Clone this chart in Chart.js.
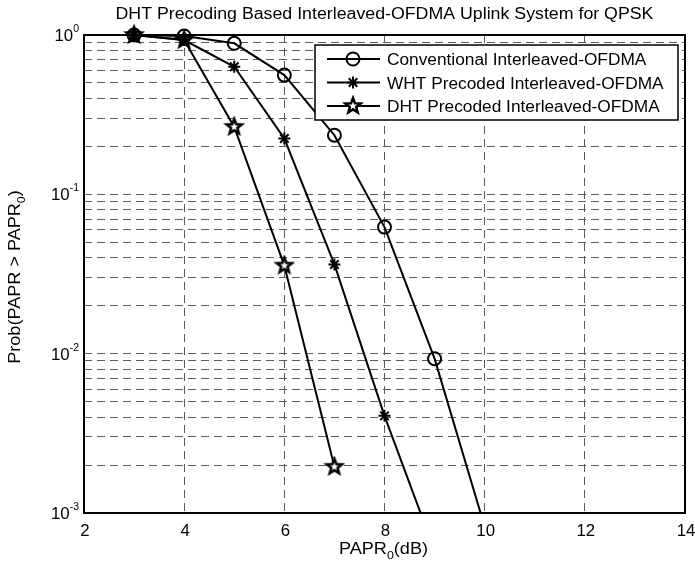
<!DOCTYPE html>
<html>
<head>
<meta charset="utf-8">
<title>DHT Precoding PAPR</title>
<script src="https://cdn.jsdelivr.net/npm/chart.js@4.4.0/dist/chart.umd.min.js"></script>
<style>
  html, body { margin: 0; padding: 0; background: #fff; }
  #paprChart { display: block; }
</style>
</head>
<body>
<canvas id="paprChart" width="695" height="563"></canvas>
<script>
// values
var paprDb = [3, 4, 5, 6, 7, 8, 9, 10];
var conventional = [1.0, 0.985, 0.887, 0.56, 0.235, 0.0623, 0.0093, 0.00082];
var whtPrecoded = [1.0, 0.93, 0.632, 0.224, 0.0363, 0.00407, 0.00058];
var dhtPrecoded = [1.0, 0.93, 0.265, 0.0357, 0.00195];
var seriesNames = ["Conventional Interleaved-OFDMA", "WHT Precoded Interleaved-OFDMA", "DHT Precoded Interleaved-OFDMA"];
var xTicks = [2, 4, 6, 8, 10, 12, 14];
var yExponents = [0, -1, -2, -3];

var FONT = '"Liberation Sans", Arial, Helvetica, sans-serif';

function toPoints(ys) {
  return ys.map(function (y, i) { return { x: paprDb[i], y: y }; });
}

// pentagram marker (matlab 'p')
function makePentagram(r) {
  var size = Math.ceil(r * 2 + 6);
  var c = document.createElement('canvas');
  c.width = size; c.height = size;
  var g = c.getContext('2d');
  g.translate(size / 2, size / 2);
  g.beginPath();
  for (var i = 0; i < 10; i++) {
    var rad = i % 2 === 0 ? r : r * 0.42;
    var a = -Math.PI / 2 + i * Math.PI / 5;
    g.lineTo(rad * Math.cos(a), rad * Math.sin(a));
  }
  g.closePath();
  g.fillStyle = '#fff';
  g.fill();
  g.lineWidth = 2.5;
  g.strokeStyle = '#000';
  g.lineJoin = 'miter';
  g.stroke();
  return c;
}
var starImg = makePentagram(8);

var markerStyles = [
  { pointStyle: 'circle', radius: 6.5 },
  { pointStyle: 'star', radius: 6 },
  { pointStyle: starImg, radius: 8 }
];

// text with a sub/superscript part, optionally stretched sideways
function drawScripted(ctx, parts, x, y, align, sx) {
  sx = sx || 1;
  var total = 0;
  parts.forEach(function (p) { ctx.font = p.size + 'px ' + FONT; total += ctx.measureText(p.t).width; });
  var cx = align === 'center' ? -total / 2 : (align === 'right' ? -total : 0);
  ctx.save();
  ctx.translate(x, y);
  ctx.scale(sx, 1);
  parts.forEach(function (p) {
    ctx.font = p.size + 'px ' + FONT;
    ctx.textAlign = 'left';
    ctx.fillText(p.t, cx, p.dy || 0);
    cx += ctx.measureText(p.t).width;
  });
  ctx.restore();
}

var axesDecor = {
  id: 'axesDecor',
  afterDraw: function (chart) {
    var ctx = chart.ctx;
    var area = chart.chartArea;
    var xs = chart.scales.x, ys = chart.scales.y;
    ctx.save();
    ctx.fillStyle = '#000';
    ctx.textBaseline = 'alphabetic';

    // box
    ctx.lineWidth = 2;
    ctx.strokeStyle = '#000';
    ctx.strokeRect(area.left, area.top, area.right - area.left, area.bottom - area.top);

    // x tick labels
    xTicks.forEach(function (v) {
      drawScripted(ctx, [{ t: String(v), size: 16 }], xs.getPixelForValue(v) + 1, area.bottom + 23, 'center', 1.05);
    });

    // y tick labels 10^n
    yExponents.forEach(function (e) {
      var py = ys.getPixelForValue(Math.pow(10, e));
      drawScripted(ctx, [
        { t: '10', size: 16 },
        { t: String(e), size: 10, dy: -9 }
      ], area.left - 5, py + 6, 'right', 1.05);
    });

    // title
    drawScripted(ctx, [{ t: 'DHT Precoding Based Interleaved-OFDMA Uplink System for QPSK', size: 16 }],
      (area.left + area.right) / 2, 18.5, 'center', 1.11);

    // x axis title
    drawScripted(ctx, [
      { t: 'PAPR', size: 16 },
      { t: '0', size: 11, dy: 5 },
      { t: '(dB)', size: 16 }
    ], (area.left + area.right) / 2 - 1, area.bottom + 41, 'center', 1.13);

    // y axis title
    ctx.save();
    ctx.translate(20, (area.top + area.bottom) / 2 + 3);
    ctx.rotate(-Math.PI / 2);
    drawScripted(ctx, [
      { t: 'Prob(PAPR > PAPR', size: 16 },
      { t: '0', size: 11, dy: 5 },
      { t: ')', size: 16 }
    ], 0, 0, 'center', 1.13);
    ctx.restore();

    // legend box
    var bw = 363, bh = 75;
    var bx = area.right - 7 - bw, by = area.top + 10;
    ctx.fillStyle = '#fff';
    ctx.fillRect(bx, by, bw, bh);
    ctx.lineWidth = 1.5;
    ctx.strokeStyle = '#000';
    ctx.strokeRect(bx, by, bw, bh);
    seriesNames.forEach(function (name, i) {
      var ly = by + 14 + i * 23.5;
      ctx.lineWidth = 2;
      ctx.strokeStyle = '#000';
      ctx.beginPath();
      ctx.moveTo(bx + 12, ly);
      ctx.lineTo(bx + 65, ly);
      ctx.stroke();
      var m = markerStyles[i];
      ctx.fillStyle = 'rgba(0,0,0,0)';
      Chart.helpers.drawPoint(ctx, { pointStyle: m.pointStyle, radius: m.radius, borderWidth: 2, rotation: 0 }, bx + 38, ly);
      ctx.fillStyle = '#000';
      drawScripted(ctx, [{ t: name, size: 16 }], bx + 72, ly + 6, 'left', 1.08);
    });
    ctx.restore();
  }
};

function makeDataset(label, ys, idx) {
  var m = markerStyles[idx];
  return {
    label: label,
    data: toPoints(ys),
    borderColor: '#000',
    backgroundColor: 'rgba(0,0,0,0)',
    borderWidth: 2,
    pointStyle: m.pointStyle,
    pointRadius: ys.map(function (v) { return v < 0.001 ? 0 : m.radius; }),
    pointBorderColor: '#000',
    pointBorderWidth: 2,
    pointBackgroundColor: 'rgba(0,0,0,0)',
    tension: 0,
    clip: { left: false, right: false, top: false, bottom: 1 }
  };
}

var ctxP = document.getElementById('paprChart').getContext('2d');
var paprChart = new Chart(ctxP, {
  type: 'line',
  data: {
    datasets: [
      makeDataset(seriesNames[0], conventional, 0),
      makeDataset(seriesNames[1], whtPrecoded, 1),
      makeDataset(seriesNames[2], dhtPrecoded, 2)
    ]
  },
  plugins: [axesDecor],
  options: {
    responsive: false,
    animation: false,
    devicePixelRatio: 1,
    layout: { padding: { left: 84, right: 8, top: 35, bottom: 50 } },
    plugins: {
      legend: { display: false },
      tooltip: { enabled: false },
      title: { display: false }
    },
    scales: {
      x: {
        type: 'linear',
        min: 2,
        max: 14,
        ticks: { display: false, stepSize: 2 },
        grid: { color: '#5a5a5a', lineWidth: 1, drawTicks: false },
        border: { display: false, dash: [8, 5] }
      },
      y: {
        type: 'logarithmic',
        min: 0.001,
        max: 1,
        ticks: { display: false, autoSkip: false },
        afterBuildTicks: function (scale) {
          var t = [];
          for (var e = -3; e < 0; e++) {
            for (var s = 1; s < 10; s++) t.push({ value: s * Math.pow(10, e), major: s === 1 });
          }
          t.push({ value: 1, major: true });
          scale.ticks = t;
        },
        grid: { color: '#5a5a5a', lineWidth: 1, drawTicks: false },
        border: { display: false, dash: [8, 5] }
      }
    }
  }
});
</script>
</body>
</html>
